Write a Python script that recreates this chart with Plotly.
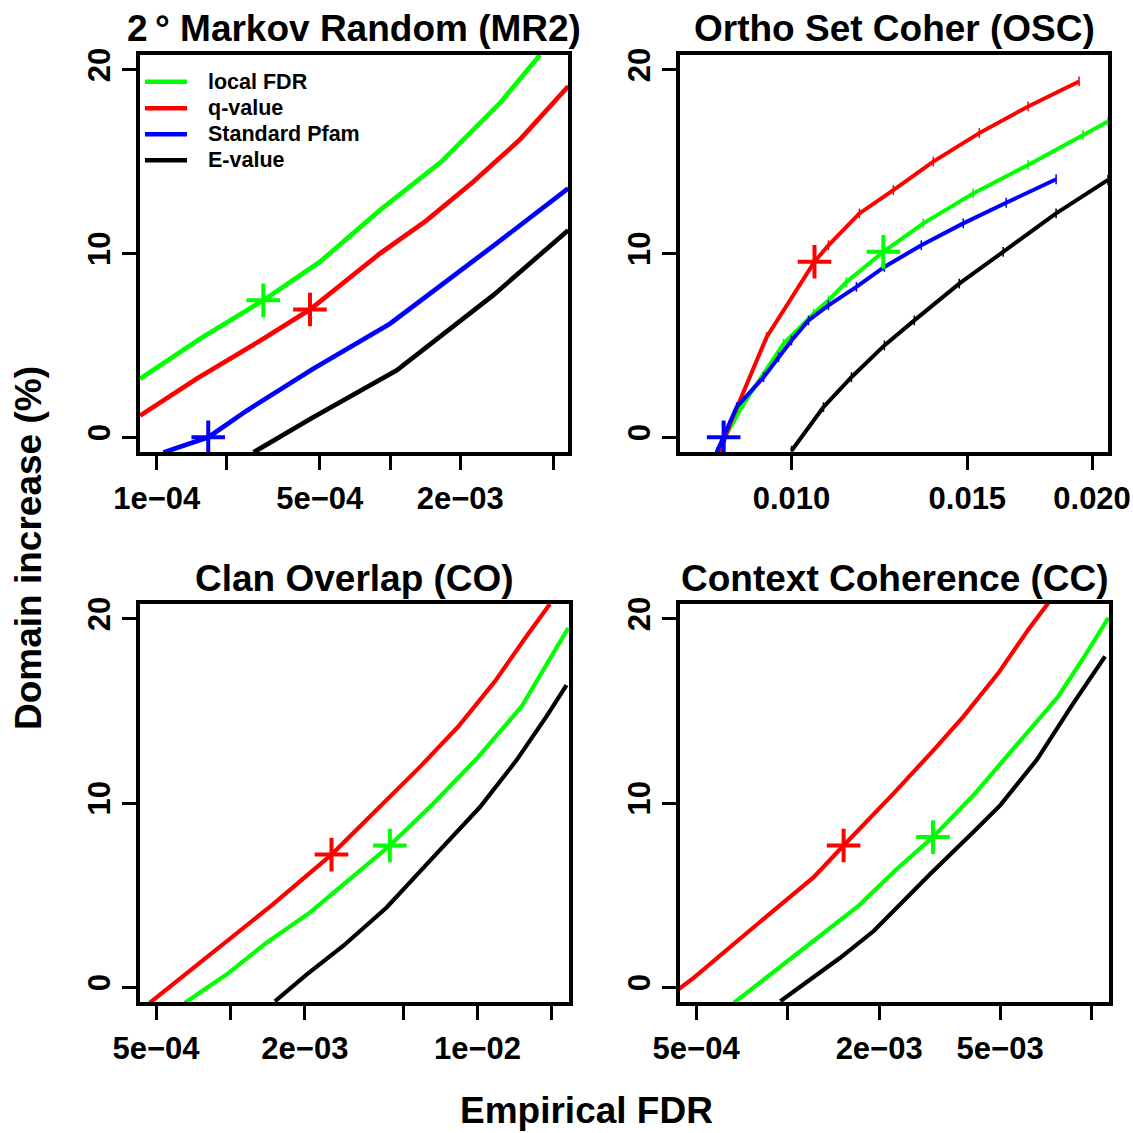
import plotly.graph_objects as go

W = H = 1133

GREEN, RED, BLUE, BLACK = "#00FF00", "#FF0000", "#0000FF", "#000000"
FONT = "Liberation Sans"

# ---------------- 2° Markov Random (MR2) ----------------
mr2_lfdr_x = [8.49e-5, 1.535e-4, 2.864e-4, 5.01e-4, 9.06e-4, 1.663e-3, 2.958e-3, 4.395e-3]
mr2_lfdr_y = [3.18, 5.36, 7.45, 9.55, 12.36, 15.0, 18.18, 20.8]
mr2_q_x = [8.49e-5, 1.483e-4, 2.864e-4, 4.539e-4, 9.06e-4, 1.436e-3, 2.275e-3, 3.606e-3, 5.808e-3]
mr2_q_y = [1.18, 3.18, 5.36, 6.95, 10.0, 11.8, 13.9, 16.2, 19.1]
mr2_pfam_x = [1.069e-4, 1.663e-4, 2.432e-4, 4.688e-4, 1.0e-3, 1.932e-3, 2.864e-3, 5.808e-3]
mr2_pfam_y = [-0.82, 0.0, 1.45, 3.73, 6.18, 8.9, 10.55, 13.55]
mr2_e_x = [2.6e-4, 4.688e-4, 1.069e-3, 1.932e-3, 2.773e-3, 5.808e-3]
mr2_e_y = [-0.82, 1.09, 3.64, 6.18, 7.73, 11.27]
mr2_pts = {"lfdr": (2.864e-4, 7.45), "q": (4.539e-4, 6.95), "pfam": (1.663e-4, 0.0)}

# ---------------- Ortho Set Coher (OSC) ----------------
osc_q_x = [0.008478, 0.008677, 0.009441, 0.010544, 0.010889, 0.011695, 0.012647,
           0.013868, 0.015417, 0.017258, 0.019409]
osc_q_y = [-0.82, 0.73, 5.45, 9.55, 10.45, 12.18, 13.45, 15.0, 16.55, 18.0, 19.36]
osc_lfdr_x = [0.00848, 0.008610, 0.008954, 0.009817, 0.010520, 0.010889, 0.011350,
              0.012359, 0.013552, 0.015205, 0.017258, 0.019588, 0.020749]
osc_lfdr_y = [-0.8, 0.18, 1.82, 5.09, 6.73, 7.45, 8.45, 10.09, 11.64, 13.27, 14.82, 16.45, 17.18]
osc_pfam_x = [0.008414, 0.008551, 0.008810, 0.009376, 0.009705, 0.010000, 0.010399,
              0.010889, 0.011614, 0.012388, 0.013490, 0.014859, 0.016406, 0.018408]
osc_pfam_y = [-0.82, 0.0, 1.64, 3.27, 4.36, 5.27, 6.36, 7.18, 8.18, 9.27, 10.45, 11.64, 12.76, 14.04]
osc_e_x = [0.010000, 0.010765, 0.011482, 0.012388, 0.013274, 0.014723, 0.016293, 0.018408, 0.020749]
osc_e_y = [-0.73, 1.64, 3.27, 5.0, 6.36, 8.36, 10.09, 12.18, 14.0]
osc_pts = {"lfdr": (0.012359, 10.09), "q": (0.010544, 9.55), "pfam": (0.008551, 0.0)}

# ---------------- Clan Overlap (CO) ----------------
co_q_x = [4.710e-4, 7.998e-4, 1.489e-3, 2.564e-3, 4.416e-3, 5.848e-3, 8.356e-3, 1.175e-2, 1.578e-2, 1.963e-2]
co_q_y = [-0.85, 1.6, 4.51, 7.2, 10.33, 11.96, 14.15, 16.6, 19.05, 20.8]
co_lfdr_x = [6.531e-4, 9.638e-4, 1.400e-3, 2.094e-3, 2.773e-3, 4.416e-3, 6.607e-3,
             1.007e-2, 1.507e-2, 1.845e-2, 2.328e-2]
co_lfdr_y = [-0.85, 0.69, 2.42, 4.05, 5.42, 7.69, 9.96, 12.5, 15.24, 17.24, 19.5]
co_e_x = [1.514e-3, 2.032e-3, 2.858e-3, 4.285e-3, 6.607e-3, 1.023e-2, 1.439e-2, 1.901e-2, 2.291e-2]
co_e_y = [-0.76, 0.69, 2.24, 4.33, 7.05, 9.78, 12.33, 14.7, 16.4]
co_pts = {"lfdr": (4.416e-3, 7.69), "q": (2.564e-3, 7.2)}

# ---------------- Context Coherence (CC) ----------------
cc_q_x = [4.30e-4, 4.909e-4, 7.943e-4, 1.216e-3, 1.528e-3, 2.228e-3, 3.020e-3,
          3.784e-3, 4.932e-3, 6.194e-3, 7.211e-3]
cc_q_y = [-0.2, 0.51, 3.42, 5.96, 7.69, 10.51, 12.87, 14.69, 17.05, 19.42, 20.87]
cc_lfdr_x = [6.653e-4, 9.705e-4, 1.279e-3, 1.710e-3, 2.286e-3, 3.006e-3, 4.083e-3,
             5.675e-3, 7.762e-3, 9.397e-3, 1.135e-2]
cc_lfdr_y = [-0.85, 1.24, 2.78, 4.42, 6.42, 8.15, 10.42, 13.15, 15.78, 17.87, 20.05]
cc_e_x = [9.462e-4, 1.489e-3, 1.919e-3, 2.944e-3, 4.083e-3, 5.000e-3, 6.592e-3, 8.710e-3, 1.107e-2]
cc_e_y = [-0.76, 1.6, 3.05, 6.15, 8.42, 9.87, 12.33, 15.42, 17.96]
cc_pts = {"lfdr": (3.006e-3, 8.15), "q": (1.528e-3, 7.69)}

titles = ["2\u2009° Markov Random (MR2)", "Ortho Set Coher (OSC)",
          "Clan Overlap (CO)", "Context Coherence (CC)"]
legend_names = ["local FDR", "q-value", "Standard Pfam", "E-value"]
legend_colors = [GREEN, RED, BLUE, BLACK]

y_ticks = [0, 10, 20]
x_tick_vals = [
    [1e-4, 2e-4, 5e-4, 1e-3, 2e-3, 5e-3],
    [0.010, 0.015, 0.020],
    [5e-4, 1e-3, 2e-3, 5e-3, 1e-2, 2e-2],
    [5e-4, 1e-3, 2e-3, 5e-3, 1e-2],
]
x_tick_text = [
    ["1e\u221204", "", "5e\u221204", "", "2e\u221203", ""],
    ["0.010", "0.015", "0.020"],
    ["5e\u221204", "", "2e\u221203", "", "1e\u221202", ""],
    ["5e\u221204", "", "2e\u221203", "5e\u221203", ""],
]
# log10 ranges of each panel's x axis
x_ranges = [[-4.0716, -2.237], [-2.1117, -1.683], [-3.366, -1.630], [-3.354, -1.943]]
y_range = [-0.8, 20.8]

# panel boxes in pixels: (left, right, top, bottom)
boxes = [(140, 568, 55, 452), (680, 1108, 55, 452), (140, 569, 604, 1002), (680, 1109, 604, 1002)]


def px(x):
    return x / W


def py(y):
    return 1 - y / H


fig = go.Figure()


def add_line(k, xs, ys, color, width, ticks=False):
    ax = "" if k == 1 else str(k)
    if ticks:
        kw = dict(mode="lines+markers",
                  marker=dict(symbol="line-ns", size=7, color=color,
                              line=dict(color=color, width=1.5)))
    else:
        kw = dict(mode="lines")
    fig.add_trace(go.Scatter(x=xs, y=ys, line=dict(color=color, width=width),
                             xaxis="x" + ax, yaxis="y" + ax, showlegend=False,
                             hoverinfo="skip", **kw))


def add_point(k, pt, color):
    ax = "" if k == 1 else str(k)
    fig.add_trace(go.Scatter(x=[pt[0]], y=[pt[1]], mode="markers",
                             marker=dict(symbol="cross-thin", size=24, color=color,
                                         line=dict(color=color, width=4)),
                             xaxis="x" + ax, yaxis="y" + ax, showlegend=False,
                             hoverinfo="skip"))


# panel 1
add_line(1, mr2_e_x, mr2_e_y, BLACK, 4.7)
add_line(1, mr2_pfam_x, mr2_pfam_y, BLUE, 4.7)
add_line(1, mr2_q_x, mr2_q_y, RED, 4.7)
add_line(1, mr2_lfdr_x, mr2_lfdr_y, GREEN, 4.7)
add_point(1, mr2_pts["lfdr"], GREEN)
add_point(1, mr2_pts["q"], RED)
add_point(1, mr2_pts["pfam"], BLUE)

# panel 2
add_line(2, osc_e_x, osc_e_y, BLACK, 4, ticks=True)
add_line(2, osc_lfdr_x, osc_lfdr_y, GREEN, 4, ticks=True)
add_line(2, osc_q_x, osc_q_y, RED, 4, ticks=True)
add_line(2, osc_pfam_x, osc_pfam_y, BLUE, 4, ticks=True)
add_point(2, osc_pts["lfdr"], GREEN)
add_point(2, osc_pts["q"], RED)
add_point(2, osc_pts["pfam"], BLUE)

# panel 3
add_line(3, co_e_x, co_e_y, BLACK, 4.2)
add_line(3, co_lfdr_x, co_lfdr_y, GREEN, 4.2)
add_line(3, co_q_x, co_q_y, RED, 4.2)
add_point(3, co_pts["lfdr"], GREEN)
add_point(3, co_pts["q"], RED)

# panel 4
add_line(4, cc_e_x, cc_e_y, BLACK, 4.2)
add_line(4, cc_lfdr_x, cc_lfdr_y, GREEN, 4.2)
add_line(4, cc_q_x, cc_q_y, RED, 4.2)
add_point(4, cc_pts["lfdr"], GREEN)
add_point(4, cc_pts["q"], RED)

axis_common = dict(showline=True, mirror=True, linewidth=3.5, linecolor="black",
                   ticks="outside", ticklen=14, tickwidth=2.5, tickcolor="black",
                   showgrid=False, zeroline=False, automargin=False,
                   tickfont=dict(family=FONT, size=31, color="black", weight="bold"))

layout = dict(width=W, height=H, autosize=False,
              margin=dict(l=0, r=0, t=0, b=0, autoexpand=False),
              plot_bgcolor="white", paper_bgcolor="white", showlegend=False)

for i, (l, r, t, b) in enumerate(boxes):
    k = i + 1
    sfx = "" if k == 1 else str(k)
    layout["xaxis" + sfx] = dict(axis_common, type="log", range=x_ranges[i],
                                 domain=[px(l), px(r)], anchor="y" + sfx,
                                 tickmode="array", tickvals=x_tick_vals[i],
                                 ticktext=x_tick_text[i], ticklabelstandoff=2)
    layout["yaxis" + sfx] = dict(axis_common, range=y_range,
                                 domain=[py(b), py(t)], anchor="x" + sfx,
                                 tickmode="array", tickvals=y_ticks,
                                 ticktext=[str(v) for v in y_ticks], tickangle=-90)

fig.update_layout(**layout)

annotations = []
shapes = []

# panel titles
title_y = [28, 28, 578, 578]
for i, (l, r, t, b) in enumerate(boxes):
    annotations.append(dict(text=titles[i], x=px((l + r) / 2), y=py(title_y[i]),
                            xref="paper", yref="paper", showarrow=False,
                            xanchor="center", yanchor="middle",
                            font=dict(family=FONT, size=37, color="black", weight="bold")))

# shared axis titles
annotations.append(dict(text="Empirical FDR", x=px(586), y=py(1110), xref="paper", yref="paper",
                        showarrow=False, xanchor="center", yanchor="middle",
                        font=dict(family=FONT, size=37, color="black", weight="bold")))
annotations.append(dict(text="Domain increase (%)", x=px(28), y=py(548), xref="paper",
                        yref="paper", showarrow=False, xanchor="center", yanchor="middle",
                        textangle=-90,
                        font=dict(family=FONT, size=37, color="black", weight="bold")))

# key for the first panel
legend_rows = [81.7, 108.3, 134.3, 160.3]
for name, color, yy in zip(legend_names, legend_colors, legend_rows):
    shapes.append(dict(type="line", xref="paper", yref="paper",
                       x0=px(145), x1=px(187), y0=py(yy), y1=py(yy),
                       line=dict(color=color, width=4.5)))
    annotations.append(dict(text=name, x=px(206), y=py(yy), xref="paper", yref="paper",
                            showarrow=False, xanchor="left", yanchor="middle",
                            font=dict(family=FONT, size=21.5, color="black", weight="bold")))

fig.update_layout(annotations=annotations, shapes=shapes)

fig.write_html("out.html")
